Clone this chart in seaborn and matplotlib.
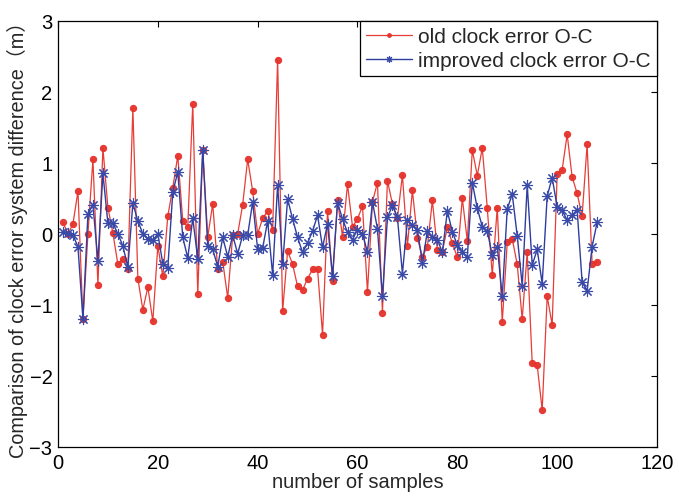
import numpy as np
import pandas as pd
import matplotlib
matplotlib.use("Agg")
import matplotlib.pyplot as plt
import seaborn as sns

samples = list(range(1, 109))

old_clock_error = [
    0.16, 0.00, 0.14, 0.60, -1.20, 0.00, 1.05, -0.72, 1.21, 0.37,
    0.01, -0.43, -0.35, -0.50, 1.77, -0.63, -1.07, -0.75, -1.23, -0.17,
    -0.60, 0.25, 0.65, 1.10, 0.18, 0.10, 1.83, -0.85, 1.18, -0.04,
    0.42, -0.50, -0.39, -0.90, -0.02, 0.00, 0.41, 1.05, 0.60, 0.00,
    0.22, 0.32, 0.05, 2.45, -1.09, -0.24, -0.43, -0.74, -0.79, -0.63,
    -0.50, -0.50, -1.42, 0.32, -0.66, 0.47, -0.04, 0.70, 0.10, 0.21,
    0.39, -0.82, 0.45, 0.72, -1.11, 0.75, 0.42, 0.22, 0.83, -0.17,
    0.61, -0.06, -0.32, -0.18, 0.47, -0.23, -0.25, 0.09, -0.13, -0.33,
    0.50, -0.10, 1.18, 0.82, 1.21, 0.36, -0.58, 0.37, -1.24, -0.12,
    -0.07, -0.43, -1.20, -0.26, -1.82, -1.85, -2.48, -0.88, -1.28, 0.84,
    0.90, 1.40, 0.80, 0.57, 0.25, 1.26, -0.42, -0.40,
]

improved_clock_error = [
    0.02, 0.01, -0.02, -0.18, -1.20, 0.28, 0.41, -0.38, 0.85, 0.15,
    0.15, 0.00, -0.17, -0.47, 0.43, 0.18, 0.00, -0.07, -0.09, 0.00,
    -0.42, -0.48, 0.59, 0.87, -0.05, -0.34, 0.22, -0.35, 1.18, -0.17,
    -0.22, -0.46, -0.05, -0.32, -0.02, -0.28, -0.02, -0.02, 0.45, -0.22,
    -0.20, 0.18, -0.58, 0.69, -0.43, 0.49, 0.21, -0.05, -0.26, -0.13,
    0.04, 0.26, -0.19, 0.14, -0.60, 0.44, 0.21, 0.02, -0.08, 0.06,
    0.00, -0.26, 0.45, 0.07, -0.88, 0.23, 0.40, 0.23, -0.56, 0.19,
    0.12, 0.06, -0.41, 0.04, -0.05, -0.08, -0.26, 0.32, 0.03, -0.16,
    -0.26, -0.32, 0.72, 0.36, 0.10, 0.04, -0.30, -0.18, -0.88, 0.35,
    0.56, -0.03, -0.73, 0.69, -0.44, -0.22, -0.70, 0.53, 0.79, 0.38,
    0.33, 0.19, 0.26, 0.34, -0.68, -0.80, -0.18, 0.16,
]

x_ticks = [0, 20, 40, 60, 80, 100, 120]
y_ticks = [-3, -2, -1, 0, 1, 2, 3]
legend_labels = ["old clock error O-C", "improved clock error O-C"]

sns.set_style("white")
plt.rcParams["font.family"] = ["Liberation Sans", "Noto Sans CJK SC", "DejaVu Sans"]

df_old = pd.DataFrame({"n": samples, "v": old_clock_error})
df_new = pd.DataFrame({"n": samples, "v": improved_clock_error})

fig = plt.figure(figsize=(6.79, 5.02), dpi=100)
ax = fig.add_axes([0.0854, 0.1076, 0.8822, 0.8492])

red = "#e5322b"
blue = "#2e3d9e"

sns.lineplot(data=df_old, x="n", y="v", ax=ax, color=red, lw=0.9,
             marker="o", markersize=4.5, markeredgecolor=red,
             markerfacecolor=red, label=legend_labels[0], alpha=0.95)
sns.lineplot(data=df_new, x="n", y="v", ax=ax, color=blue, lw=1.0,
             marker=(8, 2, 0), markersize=8, markeredgecolor="#3a4aa8",
             markeredgewidth=0.8, label=legend_labels[1])

ax.set_xlim(0, 120)
ax.set_ylim(-3, 3)
ax.set_xticks(x_ticks)
ax.set_yticks(y_ticks)
ax.tick_params(direction="in", top=True, right=True, labelsize=14.5,
               length=4, width=0.8, colors="black", pad=4)
for s in ax.spines.values():
    s.set_color("black")
    s.set_linewidth(0.9)

ax.set_xlabel("number of samples", fontsize=14.5, labelpad=0)
ax.set_ylabel("Comparison of clock error system difference（m）", fontsize=14.3, labelpad=1)

leg = ax.legend(loc="upper right", borderaxespad=0, fontsize=15,
                fancybox=False, framealpha=1, edgecolor="black",
                handlelength=2.2, handletextpad=0.3, borderpad=0.3,
                labelspacing=0.25, markerscale=0.6)
leg.get_frame().set_linewidth(0.9)

fig.savefig("out.png", dpi=100)
